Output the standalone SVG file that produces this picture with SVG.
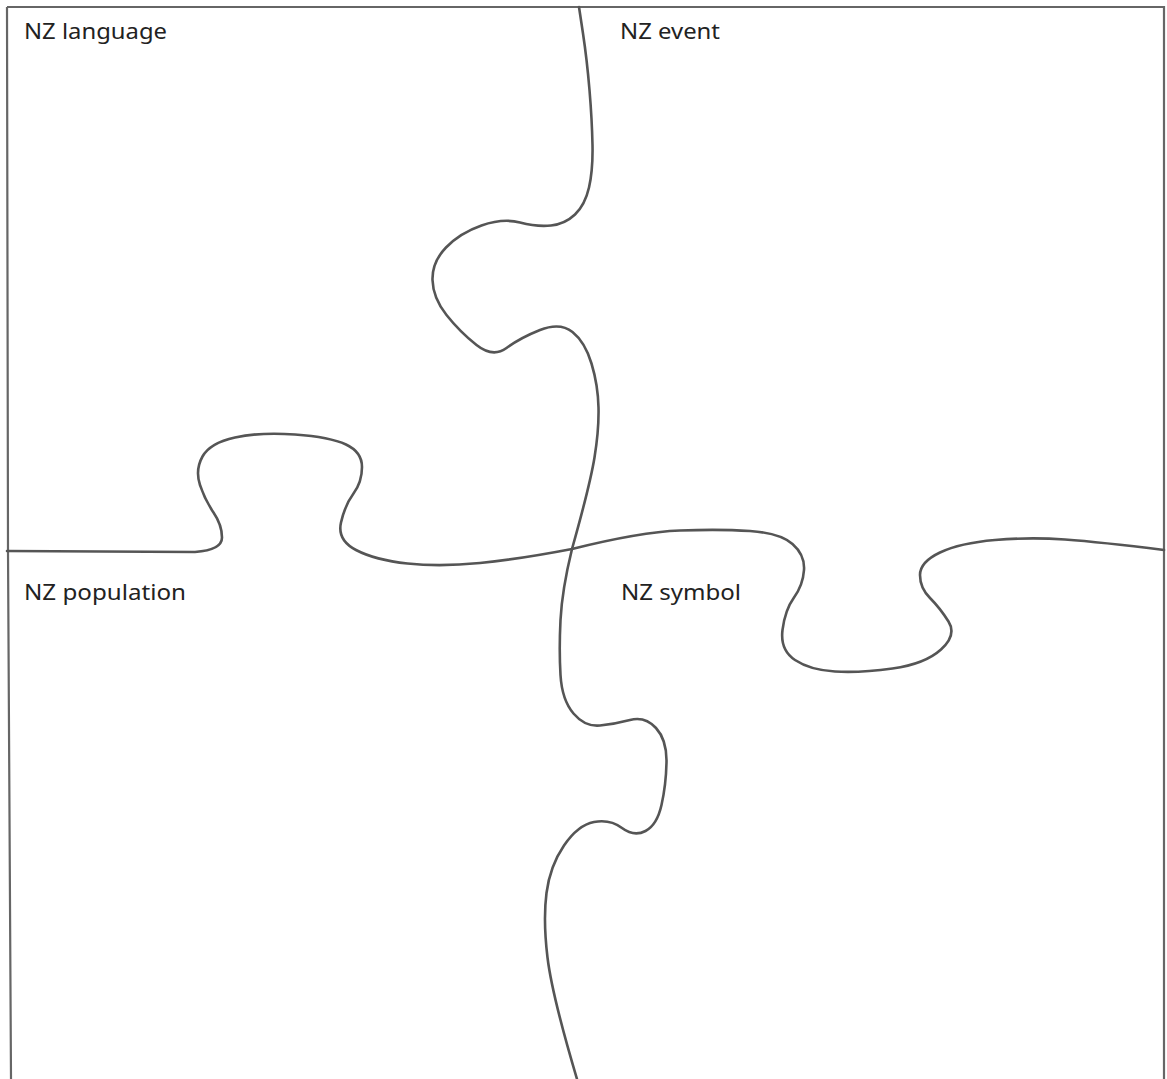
<svg xmlns="http://www.w3.org/2000/svg" width="1167" height="1079" viewBox="0 0 1167 1079">
  <style>
    .frame { fill: none; stroke: #666; stroke-width: 2.2; }
    .cut { fill: none; stroke: #555; stroke-width: 2.6; stroke-linecap: round; stroke-linejoin: round; }
    .label { font-family: "Noto Sans", "Open Sans", "DejaVu Sans", sans-serif; font-size: 21px; fill: #222; }
  </style>
  <rect width="1167" height="1079" fill="#fff"/>
  <g id="frame">
    <path class="frame" d="M7,7 H1164 V1079"/>
    <path class="frame" d="M7,7 L8,551 L11,1079"/>
  </g>
  <g id="connectors">
    <path class="cut" d="M579,7 L583,33.5 Q587,60 589.5,90 Q592,120 592.5,145 Q593,170 589,187.5 Q585,205 575,214.5 Q565,224 551,225.5 Q537,227 520,222.5 Q503,218 481.5,225.5 Q460,233 446,247.5 Q432,262 432.5,280 Q433,298 446.5,315 Q460,332 476.5,345 Q493,358 506.5,348 Q520,338 540,330 Q560,322 572.5,332 Q585,342 591.5,363.5 Q598,385 598.5,407.5 Q599,430 594.5,457.5 Q590,485 572,549"/>
    <path class="cut" d="M572,549 Q562,590 560.5,620 Q559,650 560.5,675 Q562,700 573.5,713.5 Q585,727 600,725.5 Q615,724 630,720 Q645,716 656,728 Q667,740 666.5,762.5 Q666,785 661.5,805 Q657,825 645.5,831 Q634,837 622,828 Q610,819 594,822 Q578,825 564,845.5 Q550,866 546.5,893 Q543,920 547.5,957.5 Q552,995 577,1079"/>
    <path class="cut" d="M7,551 L195,552 Q222,550 222,537.5 Q222,525 213.5,512.5 Q205,500 200,485 Q195,470 202.5,456.5 Q210,443 235,437.5 Q260,432 295,434.5 Q330,437 346,444.5 Q362,452 362,467 Q362,482 353.5,493.5 Q345,505 341,522.5 Q337,540 356,550 Q375,560 407.5,563.5 Q440,567 480,563 Q520,559 572,549"/>
    <path class="cut" d="M572,549 Q640,532 680,530.5 Q720,529 750,531 Q780,533 792.5,544 Q805,555 804,570 Q803,585 794,597.5 Q785,610 782.5,630 Q780,650 795,660 Q810,670 835,671.5 Q860,673 892.5,668.5 Q925,664 941,649.5 Q957,635 948.5,621.5 Q940,608 930,598 Q920,588 920,575 Q920,562 940,552.5 Q960,543 995,540 Q1030,537 1065,539.5 Q1100,542 1164,550"/>
  </g>
  <g id="piece-language">
    <text class="label" x="24" y="39" textLength="143" lengthAdjust="spacingAndGlyphs">NZ language</text>
  </g>
  <g id="piece-event">
    <text class="label" x="620" y="39" textLength="100" lengthAdjust="spacingAndGlyphs">NZ event</text>
  </g>
  <g id="piece-population">
    <text class="label" x="24" y="600" textLength="162" lengthAdjust="spacingAndGlyphs">NZ population</text>
  </g>
  <g id="piece-symbol">
    <text class="label" x="621" y="600" textLength="120" lengthAdjust="spacingAndGlyphs">NZ symbol</text>
  </g>
</svg>
